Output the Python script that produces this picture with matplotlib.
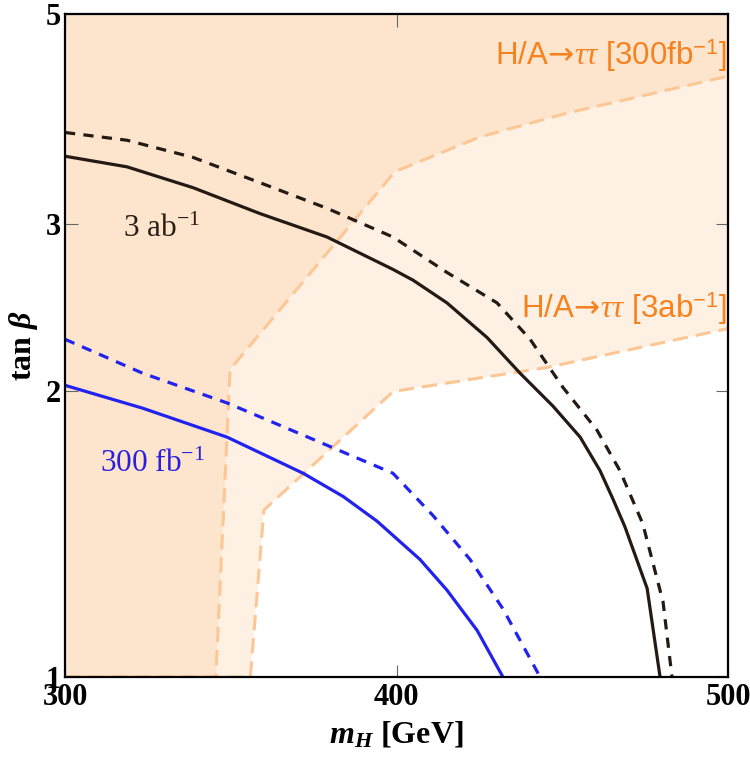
import numpy as np
import matplotlib
matplotlib.use("Agg")
import matplotlib.pyplot as plt
from matplotlib.ticker import FixedLocator, NullLocator

plt.rcParams['font.family'] = ['Liberation Serif', 'DejaVu Serif']
plt.rcParams['mathtext.fontset'] = 'custom'
plt.rcParams['mathtext.rm'] = 'Liberation Serif'
plt.rcParams['mathtext.it'] = 'Liberation Serif:italic'
plt.rcParams['mathtext.bf'] = 'Liberation Serif:bold'
plt.rcParams['mathtext.bfit'] = 'Liberation Serif:bold:italic'
plt.rcParams['mathtext.sf'] = 'DejaVu Sans'
plt.rcParams['mathtext.cal'] = 'Liberation Sans'

# H/A -> tautau exclusion boundaries (m_H, tan beta)
tau300_x = [300, 345.5, 349.8, 399.5, 425.2, 451.4, 500]
tau300_y = [1.0, 1.0, 2.11, 3.41, 3.71, 3.93, 4.30]
tau3ab_x = [300, 355.9, 360.0, 399.0, 445.4, 500]
tau3ab_y = [1.0, 1.0, 1.50, 2.00, 2.12, 2.33]

# reach curves
blue_solid_x = [300, 323.5, 348.9, 371.8, 383.9, 394.1, 407.1, 415.2, 424.3, 432.1]
blue_solid_y = [2.03, 1.92, 1.79, 1.64, 1.55, 1.46, 1.33, 1.235, 1.12, 1.0]
blue_dash_x = [300, 323.5, 348.9, 379.9, 398.9, 411.0, 422.2, 432.1, 443.3]
blue_dash_y = [2.27, 2.09, 1.945, 1.75, 1.64, 1.48, 1.33, 1.18, 1.0]
black_solid_x = [300, 318.7, 338.6, 358.8, 379.0, 398.9, 405.0, 415.2, 427.3,
                 437.3, 447.2, 455.4, 461.4, 465.3, 468.9, 475.6, 479.5]
black_solid_y = [3.54, 3.45, 3.28, 3.08, 2.91, 2.69, 2.62, 2.48, 2.28,
                 2.09, 1.93, 1.79, 1.65, 1.54, 1.44, 1.24, 1.0]
black_dash_x = [300, 318.7, 338.6, 358.8, 379.0, 398.9, 415.2, 430.3, 440.3,
                450.2, 460.5, 467.4, 472.5, 474.3, 480.4, 483.1]
black_dash_y = [3.75, 3.68, 3.53, 3.32, 3.12, 2.91, 2.67, 2.48, 2.27,
                2.02, 1.82, 1.65, 1.50, 1.45, 1.20, 1.0]

xticks = [300, 400, 500]
yticks = [1, 2, 3, 5]

fig = plt.figure(figsize=(7.5, 7.59), dpi=100)
ax = fig.add_axes([0.0867, 0.108, 0.884, 0.8736])

dash_orange = '#fcc794'
ax.fill(tau3ab_x + [500, 300], tau3ab_y + [5, 5], facecolor='#fef1e4',
        edgecolor='none', zorder=1)
ax.fill(tau300_x + [500, 300], tau300_y + [5, 5], facecolor='#fde5cd',
        edgecolor='none', zorder=1.1)
ax.plot(tau3ab_x, tau3ab_y, color=dash_orange, lw=2.2, dashes=(5, 2.6), zorder=2)
ax.plot(tau300_x, tau300_y, color=dash_orange, lw=2.2, dashes=(5, 2.6), zorder=2)

blue = '#2222ee'
dark = '#231a14'
ax.plot(blue_solid_x, blue_solid_y, color=blue, lw=2.3, zorder=3)
ax.plot(blue_dash_x, blue_dash_y, color=blue, lw=2.3, dashes=(3.2, 2.6), zorder=3)
ax.plot(black_solid_x, black_solid_y, color=dark, lw=2.3, zorder=3)
ax.plot(black_dash_x, black_dash_y, color=dark, lw=2.3, dashes=(3.2, 2.6), zorder=3)

ax.text(317.5, 2.91, r'3 ab$^{-1}$', fontsize=22.5, color='#2a1e14', va='baseline')
ax.text(310.6, 1.645, r'300 fb$^{-1}$', fontsize=22.5, color='#2a1ee0', va='baseline')
orange = '#f7811d'
ax.text(499.6, 4.42,
        r'H/A$\!\mathsf{\rightarrow}\!\tau\tau$ [300fb$^{\mathcal{-1}}$]',
        fontsize=22.5, color=orange, family='Liberation Sans',
        ha='right', va='baseline')
ax.text(499.6, 2.39,
        r'H/A$\!\mathsf{\rightarrow}\!\tau\tau$ [3ab$^{\mathcal{-1}}$]',
        fontsize=22.5, color=orange, family='Liberation Sans',
        ha='right', va='baseline')

ax.set_yscale('log')
ax.set_xlim(300, 500)
ax.set_ylim(1, 5)
ax.xaxis.set_major_locator(FixedLocator(xticks))
ax.yaxis.set_major_locator(FixedLocator(yticks))
ax.yaxis.set_minor_locator(NullLocator())
ax.set_xticklabels([str(t) for t in xticks], fontsize=22, fontweight='bold')
ax.set_yticklabels([str(t) for t in yticks], fontsize=22, fontweight='bold')
ax.tick_params(direction='in', length=9, width=0.8, color='#666666',
               top=True, right=True)
ax.tick_params(axis='x', pad=4)
ax.tick_params(axis='y', pad=3)
for s in ax.spines.values():
    s.set_linewidth(1.6)
    s.set_zorder(5)

ax.set_xlabel(r'$\mathbfit{m}_{\mathbfit{H}}$ [GeV]', fontsize=23,
              fontweight='bold', labelpad=6)
ax.set_ylabel(r'tan $\mathbfit{\beta}$', fontsize=23, fontweight='bold',
              labelpad=4)

fig.savefig('out.png', dpi=100)
